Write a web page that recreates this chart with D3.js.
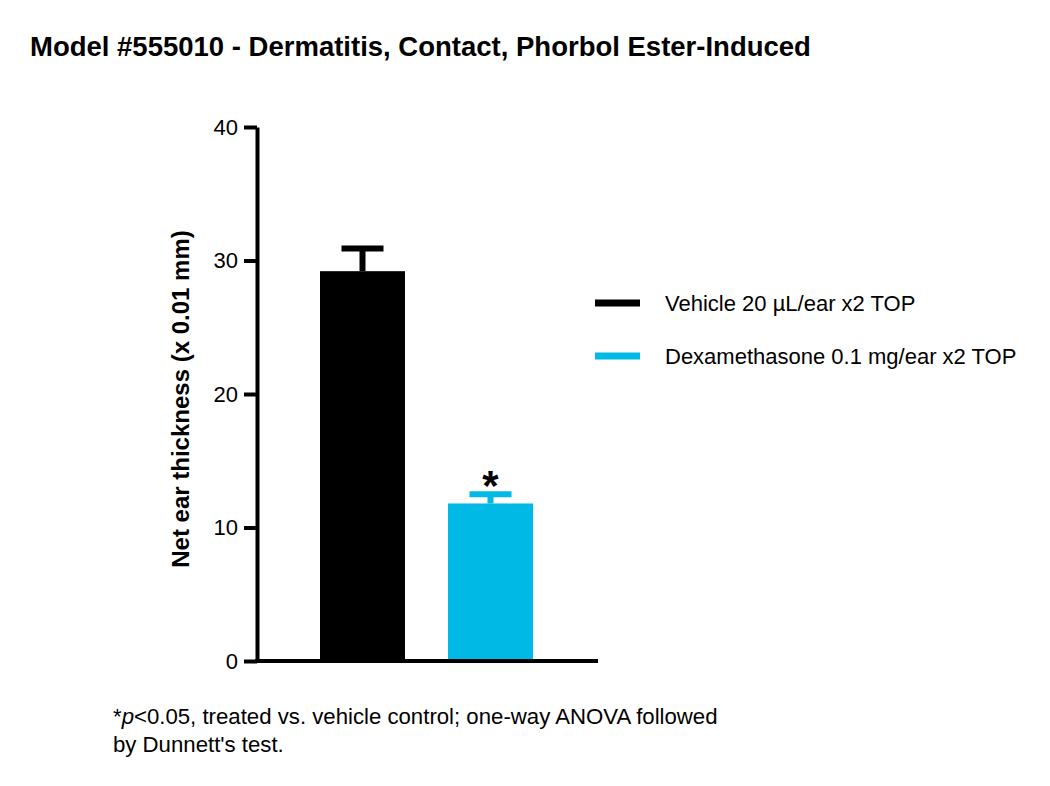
<!DOCTYPE html>
<html>
<head>
<meta charset="utf-8">
<script src="https://cdn.jsdelivr.net/npm/d3@7"></script>
<style>
  body { margin: 0; background: #fff; }
  text { font-family: "Liberation Sans", Arial, sans-serif; }
</style>
</head>
<body>
<svg id="chart" width="1050" height="786"></svg>
<script>
// data
const groups = ["Vehicle 20 \u00b5L/ear x2 TOP", "Dexamethasone 0.1 mg/ear x2 TOP"];
const means = [29.2, 11.8];
const sems = [1.7, 0.7];
const significant = [false, true];
const colors = ["#000000", "#00b9e4"];
const yTicks = [0, 10, 20, 30, 40];

const title = "Model #555010 - Dermatitis, Contact, Phorbol Ester-Induced";
const yLabel = "Net ear thickness (x 0.01 mm)";

const svg = d3.select("#chart");

// scales
const y = d3.scaleLinear().domain([0, 40]).range([661, 127]);
const x = d3
  .scaleBand()
  .domain(groups)
  .range([298.5, 554.5])
  .paddingInner(0.336)
  .paddingOuter(0.168);
const axisLeftX = 257;
const axisRightX = 598;

// title
svg
  .append("text")
  .attr("x", 30)
  .attr("y", 56)
  .style("font-size", "27.5px")
  .style("font-weight", "bold")
  .text(title);

// bars
svg
  .selectAll("rect.bar")
  .data(groups)
  .enter()
  .append("rect")
  .attr("class", "bar")
  .attr("x", (d) => x(d))
  .attr("y", (d, i) => y(means[i]))
  .attr("width", x.bandwidth())
  .attr("height", (d, i) => y(0) - y(means[i]))
  .attr("fill", (d, i) => colors[i]);

// error bars (upper only)
const err = svg.append("g");
groups.forEach(function (g, i) {
  const cx = x(g) + x.bandwidth() / 2;
  const top = y(means[i] + sems[i]);
  err
    .append("line")
    .attr("x1", cx)
    .attr("x2", cx)
    .attr("y1", y(means[i]))
    .attr("y2", top)
    .attr("stroke", colors[i])
    .attr("stroke-width", 6);
  err
    .append("line")
    .attr("x1", cx - 21)
    .attr("x2", cx + 21)
    .attr("y1", top)
    .attr("y2", top)
    .attr("stroke", colors[i])
    .attr("stroke-width", 6);
  if (significant[i]) {
    err
      .append("text")
      .attr("x", cx)
      .attr("y", top + 6)
      .attr("text-anchor", "middle")
      .style("font-size", "42px")
      .style("font-weight", "bold")
      .text("*");
  }
});

// y axis
const yAxis = svg
  .append("g")
  .attr("transform", "translate(" + axisLeftX + ",0)")
  .call(d3.axisLeft(y).tickValues(yTicks).tickSize(13).tickSizeOuter(0).tickPadding(6));
yAxis.select(".domain").attr("stroke-width", 4).attr("stroke", "#000");
yAxis.selectAll(".tick line").attr("stroke-width", 4).attr("stroke", "#000");
yAxis
  .selectAll(".tick text")
  .attr("fill", "#000")
  .style("font-size", "22px")
  .style("font-family", "Liberation Sans, Arial, sans-serif");

// x axis baseline
svg
  .append("line")
  .attr("x1", axisLeftX - 2)
  .attr("x2", axisRightX)
  .attr("y1", y(0))
  .attr("y2", y(0))
  .attr("stroke", "#000")
  .attr("stroke-width", 4);

// y label
svg
  .append("text")
  .attr("transform", "translate(189,399) rotate(-90)")
  .attr("text-anchor", "middle")
  .style("font-size", "24px")
  .style("font-weight", "bold")
  .text(yLabel);

// legend
const legend = svg
  .selectAll("g.legend")
  .data(groups)
  .enter()
  .append("g")
  .attr("class", "legend")
  .attr("transform", (d, i) => "translate(595," + (303 + i * 53) + ")");
legend
  .append("rect")
  .attr("x", 0)
  .attr("y", -3.5)
  .attr("width", 45)
  .attr("height", 7)
  .attr("fill", (d, i) => colors[i]);
legend
  .append("text")
  .attr("x", 70)
  .attr("y", 8)
  .style("font-size", "22px")
  .text((d) => d);

// footnote
const note = svg
  .append("text")
  .attr("x", 113)
  .attr("y", 724)
  .style("font-size", "22.2px");
note.append("tspan").text("*");
note.append("tspan").style("font-style", "italic").text("p");
note.append("tspan").text("<0.05, treated vs. vehicle control; one-way ANOVA followed");
svg
  .append("text")
  .attr("x", 113)
  .attr("y", 752)
  .style("font-size", "22.2px")
  .text("by Dunnett's test.");
</script>
</body>
</html>
